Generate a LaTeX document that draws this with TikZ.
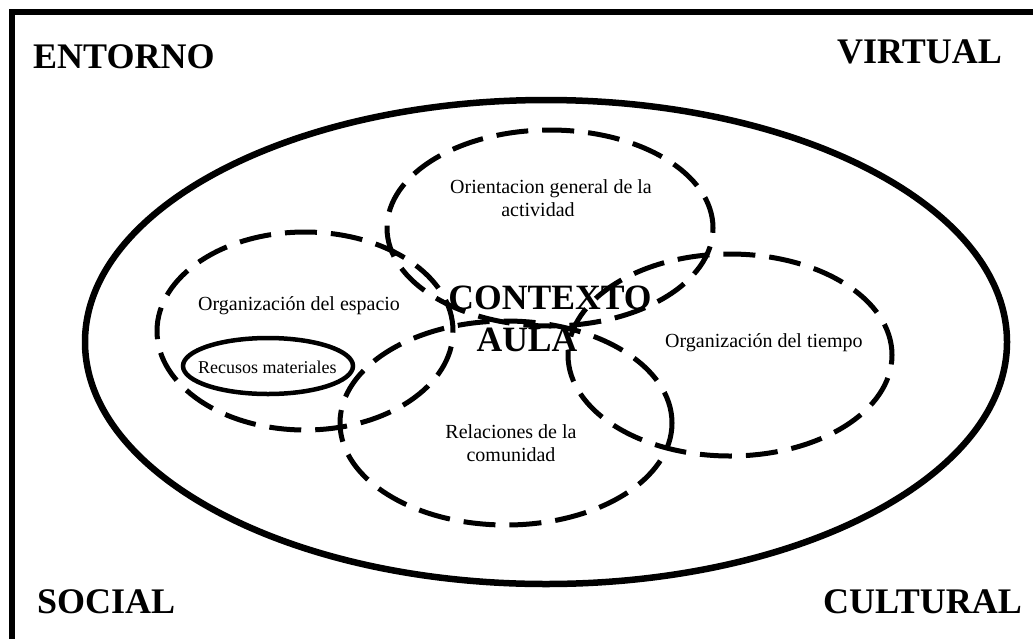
\documentclass[tikz,border=0pt]{standalone}
\usepackage{fontspec}
\setmainfont{Liberation Serif}
\usetikzlibrary{shapes.geometric}
\begin{document}
\begin{tikzpicture}[x=1pt,y=-1pt,
  ring/.style={draw, ellipse, line width=5pt, dash pattern=on 32pt off 14pt, inner sep=0pt},
  solidring/.style={draw, ellipse, inner sep=0pt},
  corner/.style={inner sep=0pt, font=\fontsize{36}{40}\selectfont\bfseries},
  lbl/.style={inner sep=0pt, align=center, font=\fontsize{20}{23}\selectfont},
  title/.style={inner sep=0pt, align=center, font=\fontsize{35.6}{42}\selectfont\bfseries}]
\useasboundingbox (0,0) rectangle (1033,638);
\fill[white] (0,0) rectangle (1033,638);
% frame (only left and top edges are inside the picture)
\coordinate (fbl) at (12,650);
\coordinate (ftl) at (12,12);
\coordinate (ftr) at (1045,12);
\begin{scope}
\clip (0,0) rectangle (1033,638);
\draw[line width=6pt, line join=miter] (fbl) -- (ftl) -- (ftr);
\end{scope}
% environment ellipse
\node[solidring, line width=6.5pt, minimum width=922pt, minimum height=484pt] (env) at (546,342) {};
% dashed areas
\node[ring, minimum width=326pt, minimum height=196pt] (orient) at (550,228) {};
\node[ring, minimum width=296pt, minimum height=198pt] (espacio) at (305,331) {};
\node[ring, minimum width=324pt, minimum height=202pt] (tiempo) at (730,355) {};
\node[ring, minimum width=332pt, minimum height=204pt] (relac) at (506,423) {};
\node[solidring, line width=4.5pt, minimum width=170pt, minimum height=56pt] (recursos) at (268,366) {};
% corner texts
\node[corner, anchor=base west] (entorno) at (33,68) {ENTORNO};
\node[corner, anchor=base east] (virtual) at (1002,63) {VIRTUAL};
\node[corner, anchor=base west] (social) at (37,613) {SOCIAL};
\node[corner, anchor=base east] (cultural) at (1022,613) {CULTURAL};
% labels
\node[title] (ctx) at (550,319) {CONTEXTO\\AULA\hspace*{46pt}};
\node[lbl] (orientT) at (551,198) {Orientacion general de la\\actividad\hspace*{26pt}};
\node[lbl, anchor=base west] (espacioT) at (198,310) {Organización del espacio};
\node[lbl, anchor=base west, font=\fontsize{18}{21}\selectfont] (recursosT) at (198,373) {Recusos materiales};
\node[lbl, anchor=base west] (tiempoT) at (665,347) {Organización del tiempo};
\node[lbl] (relacT) at (511,443) {Relaciones de la\\comunidad};
\end{tikzpicture}
\end{document}
